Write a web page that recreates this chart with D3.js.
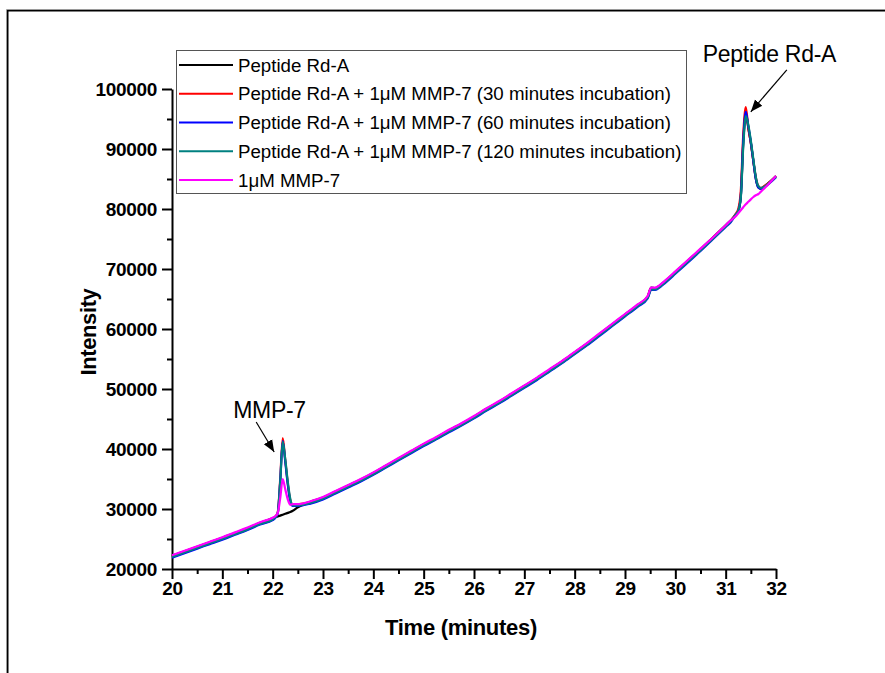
<!DOCTYPE html>
<html>
<head>
<meta charset="utf-8">
<script src="https://cdn.jsdelivr.net/npm/d3@7"></script>
<style>
  body { margin: 0; background: #fff; }
  svg { display: block; }
  text { font-family: "Liberation Sans", Arial, sans-serif; }
</style>
</head>
<body>
<svg id="chart" width="885" height="673"></svg>
<script>
// Retention time (minutes)
const time = [20, 20.25, 20.5, 20.75, 21, 21.25, 21.5, 21.75, 22, 22.05,
  22.1, 22.15, 22.2, 22.25, 22.3, 22.35, 22.4, 22.5, 22.75, 23,
  23.25, 23.5, 23.75, 24, 24.25, 24.5, 24.75, 25, 25.25, 25.5,
  25.75, 26, 26.25, 26.5, 26.75, 27, 27.25, 27.5, 27.75, 28,
  28.25, 28.5, 28.75, 29, 29.25, 29.45, 29.52, 29.6, 29.7, 29.8,
  30, 30.25, 30.5, 30.75, 31, 31.1, 31.2, 31.25, 31.3, 31.35,
  31.4, 31.45, 31.5, 31.55, 31.6, 31.65, 31.7, 31.8, 31.9, 32];

// Detector intensity for each run
const peptideOnly = [22200, 22950, 23700, 24450, 25200, 26000, 26800, 27700, 28450, 28600,
  28750, 28900, 29050, 29200, 29350, 29500, 29700, 30300, 31200, 31900,
  32900, 33900, 34900, 36000, 37200, 38400, 39600, 40800, 41900, 43100,
  44200, 45400, 46700, 47900, 49200, 50500, 51800, 53200, 54600, 56100,
  57600, 59200, 60800, 62400, 64000, 65400, 66900, 66800, 67300, 68000,
  69500, 71400, 73300, 75300, 77300, 78100, 79000, 79600, 82000, 91000,
  96000, 93500, 91000, 88000, 85000, 83600, 83400, 84000, 84700, 85500];

const incubation30 = [22150, 22900, 23650, 24400, 25150, 25950, 26750, 27650, 28400, 28700,
  29400, 35000, 41800, 38200, 34300, 31500, 30700, 30800, 31150, 31850,
  32850, 33850, 34850, 35950, 37150, 38350, 39550, 40750, 41850, 43050,
  44150, 45350, 46650, 47850, 49150, 50450, 51750, 53150, 54550, 56050,
  57550, 59150, 60750, 62350, 63950, 65350, 66800, 66700, 67250, 67950,
  69450, 71350, 73250, 75250, 77250, 78050, 79200, 80000, 83000, 92500,
  97000, 93500, 91000, 88000, 85200, 83800, 83500, 84000, 84700, 85450];

const incubation60 = [21900, 22650, 23400, 24150, 24900, 25700, 26500, 27400, 28150, 28500,
  29200, 34600, 41300, 37900, 34100, 31300, 30500, 30500, 30900, 31600,
  32600, 33600, 34600, 35700, 36900, 38100, 39300, 40500, 41600, 42800,
  43900, 45100, 46400, 47600, 48900, 50200, 51500, 52900, 54300, 55800,
  57300, 58900, 60500, 62100, 63700, 65100, 66500, 66500, 67000, 67700,
  69200, 71100, 73000, 75000, 77000, 77800, 79000, 79600, 82000, 91500,
  96200, 93800, 91200, 88000, 85000, 83600, 83400, 83800, 84500, 85300];

const incubation120 = [22000, 22750, 23500, 24250, 25000, 25800, 26600, 27500, 28250, 28600,
  29300, 34500, 41200, 38300, 34600, 31700, 30600, 30600, 31000, 31700,
  32700, 33700, 34700, 35800, 37000, 38200, 39400, 40600, 41700, 42900,
  44000, 45200, 46500, 47700, 49000, 50300, 51600, 53000, 54400, 55900,
  57400, 59000, 60600, 62200, 63800, 65200, 66600, 66600, 67100, 67800,
  69300, 71200, 73100, 75100, 77100, 77900, 79100, 79700, 81800, 90500,
  95500, 94000, 91400, 88300, 85300, 83800, 83500, 83900, 84600, 85400];

const enzymeOnly = [22300, 23050, 23800, 24550, 25300, 26100, 26900, 27800, 28550, 28800,
  29300, 31800, 35000, 33300, 31600, 30700, 30800, 30800, 31300, 32000,
  33000, 34000, 35000, 36100, 37300, 38500, 39700, 40900, 42000, 43200,
  44300, 45500, 46800, 48000, 49300, 50600, 51900, 53300, 54700, 56200,
  57700, 59300, 60900, 62500, 64100, 65500, 66900, 66900, 67400, 68100,
  69600, 71500, 73400, 75300, 77300, 78100, 78800, 79300, 79800, 80300,
  80800, 81200, 81600, 82000, 82300, 82500, 82900, 83700, 84600, 85500];

const seriesNames = [
  "Peptide Rd-A",
  "Peptide Rd-A + 1\u03BCM MMP-7 (30 minutes incubation)",
  "Peptide Rd-A + 1\u03BCM MMP-7 (60 minutes incubation)",
  "Peptide Rd-A + 1\u03BCM MMP-7 (120 minutes incubation)",
  "1\u03BCM MMP-7"
];
const seriesValues = [peptideOnly, incubation30, incubation60, incubation120, enzymeOnly];
const seriesColors = ["#000000", "#ff0000", "#0000ff", "#008080", "#ff00ff"];

const xTicks = [20, 21, 22, 23, 24, 25, 26, 27, 28, 29, 30, 31, 32];
const yTicks = [20000, 30000, 40000, 50000, 60000, 70000, 80000, 90000, 100000];

// Peak call-outs: label and the point the arrow touches (time, intensity)
const peakLabels = ["MMP-7", "Peptide Rd-A"];
const peakTimes = [22.03, 31.5];
const peakIntensities = [39500, 96200];

const svg = d3.select("#chart");
svg.append("rect").attr("width", 885).attr("height", 673).attr("fill", "#fff");

// Outer page frame (top and left edges)
svg.append("path").attr("d", "M6.5,673 V9.5 H885")
  .attr("fill", "none").attr("stroke", "#9a9a9a").attr("stroke-width", 1);
svg.append("path").attr("d", "M7.75,673 V10.75 H885")
  .attr("fill", "none").attr("stroke", "#000").attr("stroke-width", 1.5);

const x = d3.scaleLinear().domain([20, 32]).range([172, 776]);
const y = d3.scaleLinear().domain([20000, 100000]).range([569, 89]);

// Minor ticks
svg.append("g").attr("transform", "translate(0,569)")
  .call(d3.axisBottom(x).tickValues(d3.range(20.5, 32, 1)).tickSize(5).tickSizeOuter(0).tickFormat(""))
  .call(g => g.select(".domain").remove());
svg.append("g").attr("transform", "translate(172,0)")
  .call(d3.axisLeft(y).tickValues(d3.range(25000, 100000, 10000)).tickSize(5).tickSizeOuter(0).tickFormat(""))
  .call(g => g.select(".domain").remove());

// Major axes
const xAxis = svg.append("g").attr("transform", "translate(0,569)")
  .call(d3.axisBottom(x).tickValues(xTicks).tickSize(10).tickSizeOuter(0).tickPadding(3).tickFormat(d3.format("d")));
const yAxis = svg.append("g").attr("transform", "translate(172,0)")
  .call(d3.axisLeft(y).tickValues(yTicks).tickSize(10).tickSizeOuter(0).tickPadding(5).tickFormat(d3.format("d")));

svg.selectAll(".tick line").attr("stroke", "#000").attr("stroke-width", 2);
svg.selectAll(".domain").attr("stroke", "#000").attr("stroke-width", 2);
[xAxis, yAxis].forEach(a => a.selectAll("text")
  .attr("fill", "#000")
  .style("font-family", "'Liberation Sans', Arial, sans-serif")
  .style("font-size", "19px").style("font-weight", "bold").style("letter-spacing", "-0.3px"));

// Axis titles
svg.append("text").attr("x", 461).attr("y", 635).attr("text-anchor", "middle")
  .style("font-size", "22px").style("font-weight", "bold").style("letter-spacing", "-0.3px")
  .text("Time (minutes)");
svg.append("text").attr("transform", "translate(96,332) rotate(-90)").attr("text-anchor", "middle")
  .style("font-size", "22px").style("font-weight", "bold").style("letter-spacing", "-0.4px")
  .text("Intensity");

// Chromatogram traces
const line = d3.line().x((d, i) => x(time[i])).y(d => y(d)).curve(d3.curveMonotoneX);
svg.append("g").selectAll("path").data(seriesValues).join("path")
  .attr("d", d => line(d))
  .attr("fill", "none")
  .attr("stroke", (d, i) => seriesColors[i])
  .attr("stroke-width", 2.2)
  .attr("stroke-linejoin", "round");

// Peak annotations with arrows
svg.append("defs").append("marker")
  .attr("id", "arrowhead").attr("viewBox", "0 0 10 10").attr("refX", 10).attr("refY", 5)
  .attr("markerWidth", 12).attr("markerHeight", 12).attr("markerUnits", "userSpaceOnUse")
  .attr("orient", "auto")
  .append("path").attr("d", "M0,1 L10,5 L0,9 Z").attr("fill", "#000");

const tailOffsets = [[-18, -30], [36, -42]];
const textOffsets = [[-23, -4], [-84, -8]];
peakLabels.forEach((label, i) => {
  const tx = x(peakTimes[i]), ty = y(peakIntensities[i]);
  const sx = tx + tailOffsets[i][0], sy = ty + tailOffsets[i][1];
  svg.append("line").attr("x1", sx).attr("y1", sy).attr("x2", tx).attr("y2", ty)
    .attr("stroke", "#000").attr("stroke-width", 1.2).attr("marker-end", "url(#arrowhead)");
  svg.append("text").attr("x", sx + textOffsets[i][0]).attr("y", sy + textOffsets[i][1])
    .style("font-size", "23px").style("letter-spacing", "-0.3px").text(label);
});

// Legend
const legend = svg.append("g");
legend.append("rect").attr("x", 176.5).attr("y", 50.5).attr("width", 510).attr("height", 143)
  .attr("fill", "#fff").attr("stroke", "#555").attr("stroke-width", 1);
seriesNames.forEach((name, i) => {
  const ly = 65 + i * 28.75;
  legend.append("line").attr("x1", 179).attr("x2", 233).attr("y1", ly).attr("y2", ly)
    .attr("stroke", seriesColors[i]).attr("stroke-width", 2);
  legend.append("text").attr("x", 238).attr("y", ly).attr("dy", "0.36em")
    .style("font-size", "18.7px").text(name);
});
</script>
</body>
</html>
